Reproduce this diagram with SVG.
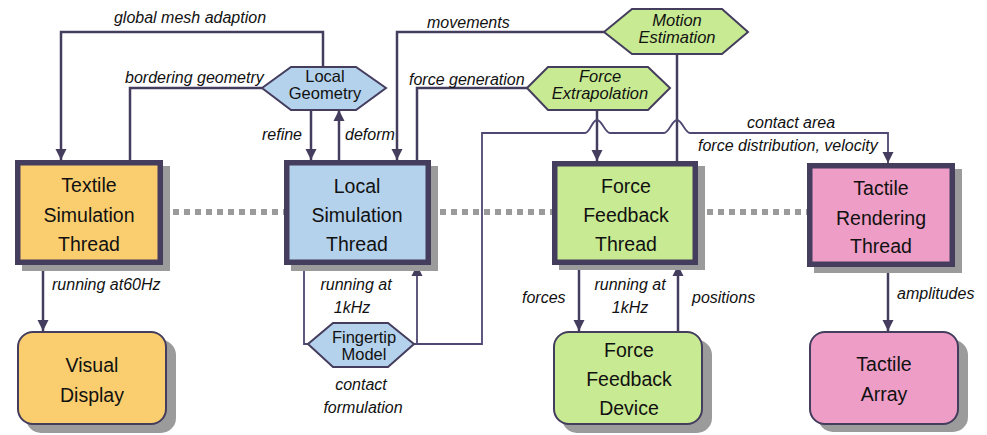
<svg xmlns="http://www.w3.org/2000/svg" width="987" height="435" viewBox="0 0 987 435">
<style>
.thread{stroke:#443D5E;stroke-width:5.5}
.dev{stroke:#443D5E;stroke-width:2}
.hex{stroke:#443D5E;stroke-width:2}
.sh{fill:#9B9B9B}
.orange{fill:#FACE6E}
.blue{fill:#B5D2EC}
.green{fill:#C8EA92}
.pink{fill:#EE9EC6}
.nt{font-family:"Liberation Sans",Arial,sans-serif;font-size:19.5px;fill:#111;text-anchor:middle}
.ht{font-family:"Liberation Sans",Arial,sans-serif;font-size:16.5px;fill:#111;text-anchor:middle}
.hti{font-style:italic}
.lb{font-family:"Liberation Sans",Arial,sans-serif;font-size:16px;font-style:italic;fill:#111}
.mid{text-anchor:middle}
.c{fill:none;stroke:#443D5E;stroke-width:2.5}
.ct{fill:none;stroke:#4F4872;stroke-width:1.8}
.dash{fill:none;stroke:#9B9B9B;stroke-width:6;stroke-dasharray:6 5}
</style>
<defs>
<marker id="ah" markerUnits="userSpaceOnUse" markerWidth="12" markerHeight="12" refX="11" refY="6" orient="auto">
<path d="M0,0.5 L11,6 L0,11.5 z" fill="#443D5E"/>
</marker>
</defs>

<g id="sync-lines">
<path class="dash" d="M173,212 H284"/>
<path class="dash" d="M440,212 H552"/>
<path class="dash" d="M707,212 H807"/>
</g>

<g id="connectors">
<path class="c" d="M323,67 V32 H61 V160" marker-end="url(#ah)"/>
<path class="c" d="M262,88 H130 V160"/>
<path class="c" d="M311,110 V160" marker-end="url(#ah)"/>
<path class="c" d="M339,160 V110" marker-end="url(#ah)"/>
<path class="c" d="M604,32 H397 V160" marker-end="url(#ah)"/>
<path class="c" d="M417,160 V88 H527"/>
<path class="c" d="M597,110 V161" marker-end="url(#ah)"/>
<path class="c" d="M677,54 V161"/>
<path class="ct" d="M414,344 H482 V133 H585 C590,133 592,120 597,120 C602,120 605,133 610,133 H664 C669,133 672,120 677,120 C682,120 685,133 690,133 H888 V163" marker-end="url(#ah)"/>
<path class="ct" d="M417,344 V265" marker-end="url(#ah)"/>
<path class="ct" d="M304,265 V344 H308"/>
<path class="c" d="M43,265 V331" marker-end="url(#ah)"/>
<path class="c" d="M579,265 V331" marker-end="url(#ah)"/>
<path class="c" d="M678,331 V265" marker-end="url(#ah)"/>
<path class="c" d="M888,267 V331" marker-end="url(#ah)"/>
</g>

<g id="connector-labels">
<text class="lb mid" x="190" y="23">global mesh adaption</text>
<text class="lb" x="125" y="83">bordering geometry</text>
<text class="lb" x="302" y="140" text-anchor="end">refine</text>
<text class="lb" x="345" y="140">deform</text>
<text class="lb" x="427" y="28">movements</text>
<text class="lb" x="409" y="85">force generation</text>
<text class="lb" x="747" y="128">contact area</text>
<text class="lb" x="698" y="151">force distribution, velocity</text>
<text class="lb" x="52" y="290">running at60Hz</text>
<text class="lb mid" x="356" y="290">running at</text>
<text class="lb mid" x="352" y="313">1kHz</text>
<text class="lb mid" x="361" y="390">contact</text>
<text class="lb mid" x="363" y="413">formulation</text>
<text class="lb" x="522" y="303">forces</text>
<text class="lb mid" x="630" y="290">running at</text>
<text class="lb mid" x="630" y="313">1kHz</text>
<text class="lb" x="692" y="303">positions</text>
<text class="lb" x="897" y="299">amplitudes</text>
</g>

<g id="textile-thread">
<rect class="sh" x="22" y="166" width="148" height="105"/>
<rect class="thread orange" x="17.75" y="162.75" width="142.5" height="99.5"/>
<text class="nt" x="89" y="192">Textile</text>
<text class="nt" x="89" y="222">Simulation</text>
<text class="nt" x="89" y="251">Thread</text>
</g>

<g id="local-thread">
<rect class="sh" x="291" y="166" width="147" height="105"/>
<rect class="thread blue" x="286.75" y="162.75" width="141.5" height="99.5"/>
<text class="nt" x="357" y="193">Local</text>
<text class="nt" x="357" y="222">Simulation</text>
<text class="nt" x="357" y="251">Thread</text>
</g>

<g id="ff-thread">
<rect class="sh" x="559" y="166" width="146" height="104"/>
<rect class="thread green" x="554.75" y="163.75" width="140.5" height="98.5"/>
<text class="nt" x="626" y="193">Force</text>
<text class="nt" x="626" y="222">Feedback</text>
<text class="nt" x="626" y="251">Thread</text>
</g>

<g id="tactile-thread">
<rect class="sh" x="814" y="169" width="148" height="104"/>
<rect class="thread pink" x="809.75" y="165.75" width="142.5" height="98.5"/>
<text class="nt" x="881" y="195">Tactile</text>
<text class="nt" x="881" y="225">Rendering</text>
<text class="nt" x="881" y="253">Thread</text>
</g>

<g id="visual-display">
<rect class="sh" x="26" y="340" width="150" height="93" rx="15"/>
<rect class="dev orange" x="18" y="332" width="148" height="92" rx="15"/>
<text class="nt" x="92" y="372">Visual</text>
<text class="nt" x="92" y="402">Display</text>
</g>

<g id="ff-device">
<rect class="sh" x="562" y="340" width="150" height="93" rx="15"/>
<rect class="dev green" x="554" y="332" width="148" height="92" rx="15"/>
<text class="nt" x="629" y="357">Force</text>
<text class="nt" x="629" y="386">Feedback</text>
<text class="nt" x="629" y="415">Device</text>
</g>

<g id="tactile-array">
<rect class="sh" x="818" y="340" width="150" height="92" rx="15"/>
<rect class="dev pink" x="810" y="332" width="148" height="92" rx="15"/>
<text class="nt" x="884" y="371">Tactile</text>
<text class="nt" x="884" y="401">Array</text>
</g>

<g id="local-geometry">
<polygon class="hex blue" points="262,88 291,67 356,67 386,88 356,110 291,110"/>
<text class="ht" x="325" y="82">Local</text>
<text class="ht" x="325" y="99">Geometry</text>
</g>

<g id="fingertip-model">
<polygon class="hex blue" points="308,344 333,323 388,323 414,344 388,367 333,367"/>
<text class="ht" x="364" y="343">Fingertip</text>
<text class="ht" x="364" y="360">Model</text>
</g>

<g id="force-extrapolation">
<polygon class="hex green" points="527,88 548,67 648,67 670,88 648,110 548,110"/>
<text class="ht hti" x="600" y="82">Force</text>
<text class="ht hti" x="600" y="99">Extrapolation</text>
</g>

<g id="motion-estimation">
<polygon class="hex green" points="604,32 632,9 722,9 748,32 722,54 632,54"/>
<text class="ht hti" x="677" y="26">Motion</text>
<text class="ht hti" x="677" y="43">Estimation</text>
</g>
</svg>
